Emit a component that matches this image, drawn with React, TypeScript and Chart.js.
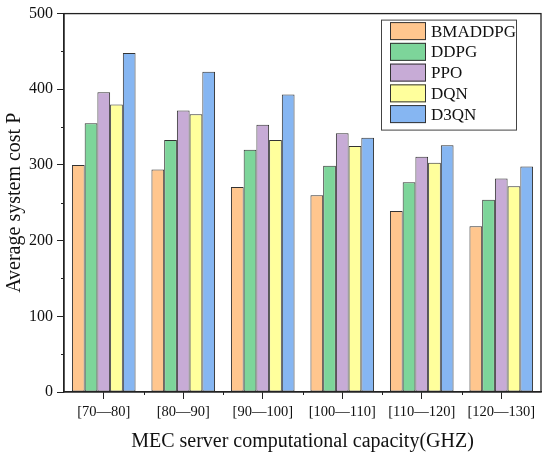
import React, { useRef, useEffect } from "react";
import { Chart, registerables } from "chart.js";

Chart.register(...registerables);

const categories = ["[70—80]", "[80—90]", "[90—100]", "[100—110]", "[110—120]", "[120—130]"];
const seriesNames = ["BMADDPG", "DDPG", "PPO", "DQN", "D3QN"];
const bmaddpg = [300, 294, 271, 260, 239, 219];
const ddpg = [355, 333, 320, 299, 277, 254];
const ppo = [396, 372, 353, 342, 311, 282];
const dqn = [380, 367, 333, 325, 303, 272];
const d3qn = [448, 423, 393, 336, 326, 298];
const colors = ["#FFC68E", "#7DD59A", "#C7ABD6", "#FFFF9C", "#86B6F2"];

const FONT = "'Liberation Serif', 'Times New Roman', serif";
const AXIS = "#222";

// рамка, малые засечки и легенда внутри области графика
const framePlugin = {
  id: "frame",
  afterDraw(chart: Chart) {
    const { ctx, chartArea, scales } = chart;
    const x = scales.x;
    const y = scales.y;
    ctx.save();
    ctx.strokeStyle = AXIS;
    ctx.lineWidth = 1.3;
    ctx.strokeRect(chartArea.left, chartArea.top, chartArea.right - chartArea.left, chartArea.bottom - chartArea.top);

    // малые засечки по y (каждые 50)
    ctx.lineWidth = 1;
    ctx.beginPath();
    for (let v = 50; v < 500; v += 100) {
      const py = Math.round(y.getPixelForValue(v)) + 0.5;
      ctx.moveTo(chartArea.left - 3, py);
      ctx.lineTo(chartArea.left, py);
    }
    // малые засечки по x (между группами)
    for (let i = 0; i < categories.length - 1; i++) {
      const px = Math.round((x.getPixelForValue(i) + x.getPixelForValue(i + 1)) / 2) + 0.5;
      ctx.moveTo(px, chartArea.bottom);
      ctx.lineTo(px, chartArea.bottom + 3);
    }
    ctx.stroke();

    // легенда
    const boxRight = chartArea.right - 25;
    const boxLeft = boxRight - 135;
    const boxTop = chartArea.top + 6;
    const boxH = 110;
    ctx.fillStyle = "#fff";
    ctx.fillRect(boxLeft, boxTop, boxRight - boxLeft, boxH);
    ctx.strokeStyle = "#444";
    ctx.lineWidth = 1;
    ctx.strokeRect(boxLeft + 0.5, boxTop + 0.5, boxRight - boxLeft, boxH);
    ctx.font = `17px ${FONT}`;
    ctx.textBaseline = "middle";
    chart.data.datasets.forEach((ds, i) => {
      const cy = boxTop + 11.5 + i * 20.75;
      ctx.fillStyle = ds.backgroundColor as string;
      ctx.fillRect(boxLeft + 9, cy - 9, 36, 18);
      ctx.strokeStyle = "#333";
      ctx.strokeRect(boxLeft + 9.5, cy - 8.5, 35, 17);
      ctx.fillStyle = "#111";
      ctx.fillText(ds.label as string, boxLeft + 50, cy + 1);
    });
    ctx.restore();
  },
};

export default function App() {
  const chartRef = useRef<HTMLCanvasElement>(null);

  useEffect(() => {
    if (!chartRef.current) return;
    const values = [bmaddpg, ddpg, ppo, dqn, d3qn];
    const chart = new Chart(chartRef.current, {
      type: "bar",
      data: {
        labels: categories,
        datasets: seriesNames.map((name, i) => ({
          label: name,
          data: values[i],
          backgroundColor: colors[i],
          borderColor: "#333",
          borderWidth: 1,
          borderSkipped: false,
          categoryPercentage: 0.8,
          barPercentage: 1.0,
        })),
      },
      options: {
        animation: false,
        responsive: true,
        maintainAspectRatio: false,
        layout: { padding: { top: 13, right: 9, left: 0, bottom: 0 } },
        plugins: {
          legend: { display: false },
          tooltip: { enabled: false },
        },
        scales: {
          x: {
            afterFit: (scale: any) => { scale.height = 68; },
            grid: { display: true, drawOnChartArea: false, offset: false, tickLength: 7, color: AXIS, tickColor: AXIS },
            border: { display: true, color: AXIS, width: 1.3 },
            ticks: { color: "#111", font: { family: FONT, size: 14.5 }, padding: 4, maxRotation: 0, autoSkip: false },
            title: { display: true, text: "MEC server computational capacity(GHZ)", color: "#111", font: { family: FONT, size: 20 }, padding: { top: 0, bottom: 6 } },
          },
          y: {
            min: 0,
            max: 500,
            afterFit: (scale: any) => { scale.width = 64; },
            grid: { display: true, drawOnChartArea: false, tickLength: 7, color: AXIS, tickColor: AXIS },
            border: { display: true, color: AXIS, width: 1.3 },
            ticks: { stepSize: 100, color: "#111", font: { family: FONT, size: 16 }, padding: 4 },
            title: { display: true, text: "Average system cost P", color: "#111", font: { family: FONT, size: 20 }, padding: { top: 3, bottom: 0 } },
          },
        },
      },
      plugins: [framePlugin],
    });
    return () => chart.destroy();
  }, []);

  return (
    <div style={{ position: "fixed", left: 0, top: 0, width: 550, height: 460, background: "#fff" }}>
      <canvas ref={chartRef} />
    </div>
  );
}
